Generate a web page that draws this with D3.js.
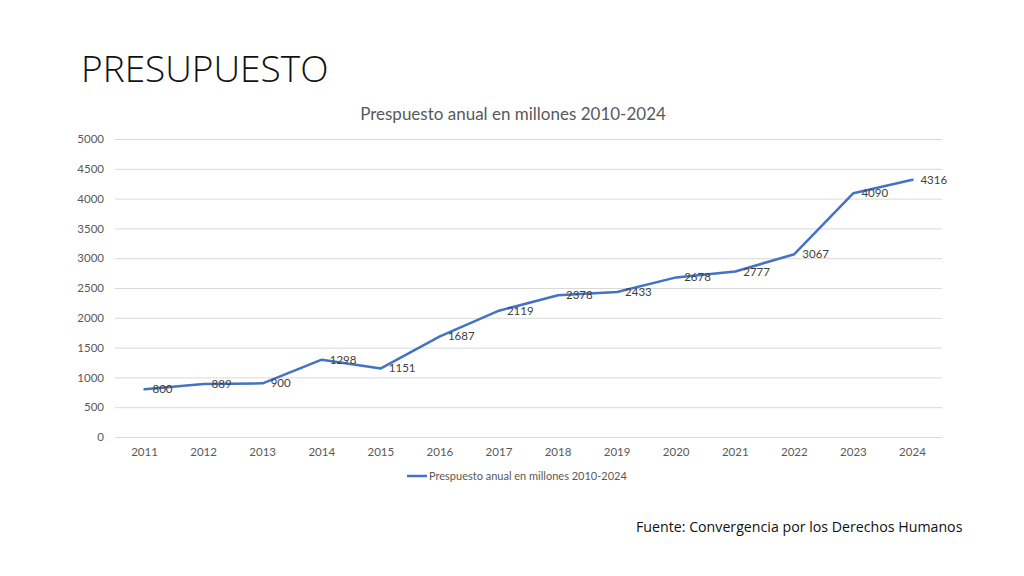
<!DOCTYPE html>
<html>
<head>
<meta charset="utf-8">
<script src="https://cdn.jsdelivr.net/npm/d3@7"></script>
<style>
  html, body { margin: 0; padding: 0; background: #ffffff; }
  svg { display: block; }
</style>
</head>
<body>
<svg id="chart" width="1024" height="576"></svg>
<script>
const years = ["2011","2012","2013","2014","2015","2016","2017","2018","2019","2020","2021","2022","2023","2024"];
const budget = [800, 889, 900, 1298, 1151, 1687, 2119, 2378, 2433, 2678, 2777, 3067, 4090, 4316];
const yTicks = [0, 500, 1000, 1500, 2000, 2500, 3000, 3500, 4000, 4500, 5000];
const seriesName = "Prespuesto anual en millones 2010-2024";
const pageTitle = "PRESUPUESTO";
const chartTitle = "Prespuesto anual en millones 2010-2024";
const source = "Fuente: Convergencia por los Derechos Humanos";

const svg = d3.select("#chart");
const font = "Lato, 'Open Sans', sans-serif";
const grey = "#595959";
const blue = "#4472C4";

const plot = { left: 115, right: 942, top: 139, bottom: 437 };

const x = d3.scaleBand().domain(years).range([plot.left, plot.right]);
const y = d3.scaleLinear().domain([0, 5000]).range([plot.bottom, plot.top]);

// Page title
svg.append("text")
  .attr("x", 81).attr("y", 82)
  .attr("font-family", "'Open Sans', sans-serif")
  .attr("font-size", 37)
  .attr("font-weight", 300)
  .attr("fill", "#111")
  .text(pageTitle);

// Chart title
svg.append("text")
  .attr("x", 513).attr("y", 120)
  .attr("text-anchor", "middle")
  .attr("font-family", font)
  .attr("font-size", 17)
  .attr("fill", grey)
  .text(chartTitle);

// Gridlines
const yAxis = d3.axisLeft(y).tickValues(yTicks).tickFormat(d3.format("d"))
  .tickSize(-(plot.right - plot.left)).tickPadding(11);
const gy = svg.append("g").attr("transform", `translate(${plot.left},0)`).call(yAxis);
gy.select(".domain").remove();
gy.selectAll(".tick line").attr("stroke", "#d9d9d9").attr("stroke-width", 1);
gy.selectAll(".tick text").attr("font-family", font).attr("font-size", 11.5).attr("fill", grey);

// X axis
const xAxis = d3.axisBottom(x).tickSize(0).tickPadding(11);
const gx = svg.append("g").attr("transform", `translate(0,${plot.bottom})`).call(xAxis);
gx.select(".domain").attr("stroke", "#d9d9d9");
gx.selectAll(".tick text").attr("font-family", font).attr("font-size", 11.5).attr("fill", grey);

// Line
const data = years.map((yr, i) => ({ year: yr, value: budget[i] }));
const line = d3.line()
  .x(d => x(d.year) + x.bandwidth() / 2)
  .y(d => y(d.value));
svg.append("path")
  .datum(data)
  .attr("fill", "none")
  .attr("stroke", blue)
  .attr("stroke-width", 2.5)
  .attr("stroke-linejoin", "round")
  .attr("stroke-linecap", "round")
  .attr("d", line);

// Data labels
svg.append("g").selectAll("text")
  .data(data)
  .join("text")
  .attr("x", d => x(d.year) + x.bandwidth() / 2 + 8)
  .attr("y", d => y(d.value))
  .attr("dy", "0.35em")
  .attr("font-family", font)
  .attr("font-size", 11.5)
  .attr("fill", "#404040")
  .text(d => d.value);

// Legend
const lg = svg.append("g").attr("transform", "translate(407,476)");
lg.append("line").attr("x1", 0).attr("x2", 20).attr("y1", 0).attr("y2", 0)
  .attr("stroke", blue).attr("stroke-width", 2.5);
lg.append("text").attr("x", 22).attr("y", 0).attr("dy", "0.35em")
  .attr("font-family", font).attr("font-size", 11).attr("fill", grey)
  .text(seriesName);

// Source
svg.append("text")
  .attr("x", 636).attr("y", 532)
  .attr("font-family", "'Open Sans', sans-serif")
  .attr("font-size", 14.2)
  .attr("fill", "#111")
  .text(source);
</script>
</body>
</html>
